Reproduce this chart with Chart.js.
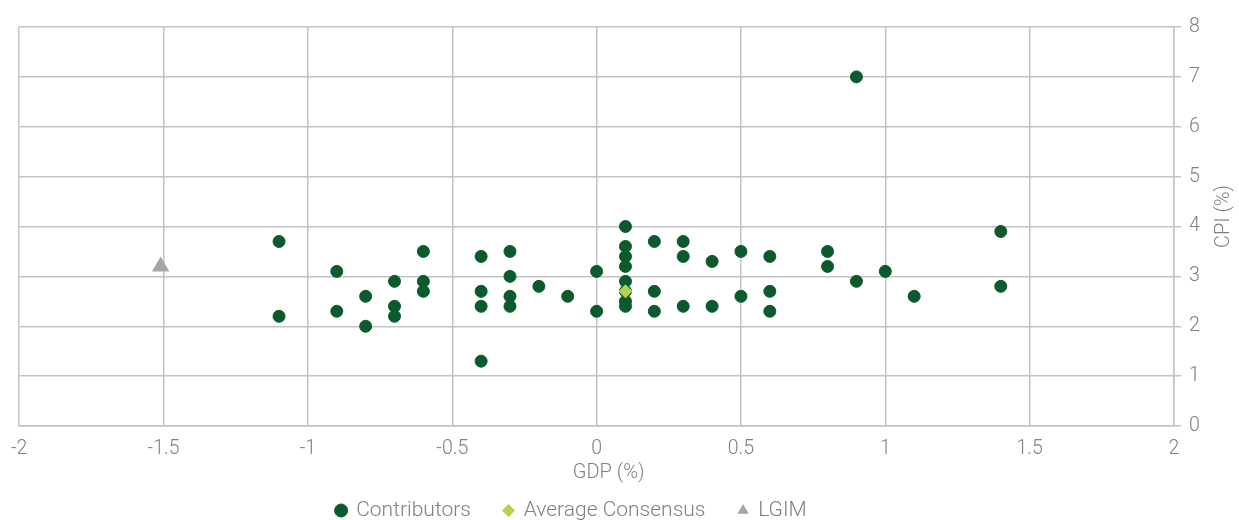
<!DOCTYPE html>
<html>
<head>
<meta charset="utf-8">
<script src="https://cdn.jsdelivr.net/npm/chart.js@4/dist/chart.umd.min.js"></script>
<style>
    html, body { margin: 0; padding: 0; background: #ffffff; }
    #wrap { width: 1239px; height: 520px; }
</style>
</head>
<body>
<div id="wrap"><canvas id="chart"></canvas></div>
<script>
// GDP (%) / CPI (%) forecasts
const contributorsGdp = [
    -1.1, -1.1, -0.9, -0.9, -0.8, -0.8, -0.7, -0.7, -0.7,
    -0.6, -0.6, -0.6, -0.4, -0.4, -0.4, -0.4, -0.3, -0.3, -0.3, -0.3,
    -0.2, -0.1, 0, 0,
    0.1, 0.1, 0.1, 0.1, 0.1, 0.1, 0.1, 0.1,
    0.2, 0.2, 0.2, 0.3, 0.3, 0.3, 0.4, 0.4, 0.5, 0.5,
    0.6, 0.6, 0.6, 0.8, 0.8, 0.9, 0.9, 1.0, 1.1, 1.4, 1.4
];
const contributorsCpi = [
    3.7, 2.2, 3.1, 2.3, 2.6, 2.0, 2.9, 2.4, 2.2,
    3.5, 2.9, 2.7, 3.4, 2.7, 2.4, 1.3, 3.5, 3.0, 2.6, 2.4,
    2.8, 2.6, 3.1, 2.3,
    4.0, 3.6, 3.4, 3.2, 2.9, 2.7, 2.5, 2.4,
    3.7, 2.7, 2.3, 3.7, 3.4, 2.4, 3.3, 2.4, 3.5, 2.6,
    3.4, 2.7, 2.3, 3.5, 3.2, 7.0, 2.9, 3.1, 2.6, 3.9, 2.8
];
const consensusGdp = [0.1];
const consensusCpi = [2.7];
const lgimGdp = [-1.51];
const lgimCpi = [3.2];

const seriesNames = ['Contributors', 'Average Consensus', 'LGIM'];
const xTitle = 'GDP (%)';
const yTitle = 'CPI (%)';

const toPoints = (xs, ys) => xs.map((x, i) => ({ x: x, y: ys[i] }));

const textColor = '#7f7f7f';
const gridColor = '#c3c3c3';

Chart.defaults.font.family = 'Roboto';
Chart.defaults.font.weight = '300';
Chart.defaults.font.size = 19.5;
Chart.defaults.color = textColor;

// axis titles: Excel places them a bit off-centre and the CPI one reads upward
const axisTitles = {
    id: 'axisTitles',
    afterLayout(chart) {
        // legend sits left of the plot centre in the original
        chart.legend.left -= 50;
    },
    afterDraw(chart) {
        const { ctx, chartArea } = chart;
        ctx.save();
        ctx.font = '300 20px Roboto';
        ctx.fillStyle = textColor;
        ctx.textAlign = 'center';
        ctx.textBaseline = 'middle';
        ctx.fillText(xTitle, (chartArea.left + chartArea.right) / 2 + 12, chartArea.bottom + 47);
        ctx.translate(chartArea.right + 50, (chartArea.top + chartArea.bottom) / 2 - 10);
        ctx.rotate(-Math.PI / 2);
        ctx.fillText(yTitle, 0, 0);
        ctx.restore();
    }
};

new Chart(document.getElementById('chart'), {
    type: 'scatter',
    data: {
        datasets: [
            {
                label: seriesNames[0],
                data: toPoints(contributorsGdp, contributorsCpi),
                pointStyle: 'circle',
                pointRadius: 6,
                pointBorderWidth: 1,
                backgroundColor: '#0a5a2e',
                borderColor: '#0a5a2e',
                order: 2,
            },
            {
                label: seriesNames[1],
                data: toPoints(consensusGdp, consensusCpi),
                pointStyle: 'rectRot',
                pointRadius: 7,
                pointBorderWidth: 0,
                backgroundColor: '#b4d24f',
                borderColor: '#b4d24f',
                order: 0,
            },
            {
                label: seriesNames[2],
                data: toPoints(lgimGdp, lgimCpi),
                pointStyle: 'triangle',
                pointRadius: 10,
                pointBorderWidth: 0,
                backgroundColor: '#a5a5a5',
                borderColor: '#a5a5a5',
                order: 1,
            },
        ]
    },
    options: {
        responsive: true,
        maintainAspectRatio: false,
        animation: false,
        layout: {
            padding: { left: 18, top: 27, right: 0, bottom: -11 }
        },
        scales: {
            x: {
                type: 'linear',
                position: 'bottom',
                min: -2,
                max: 2,
                ticks: {
                    stepSize: 0.5,
                    padding: 11,
                    color: textColor,
                    callback: (value) => String(value),
                },
                grid: { color: gridColor, lineWidth: 1.5, drawTicks: false },
                border: { color: gridColor, width: 1.5 },
                afterFit: (scale) => { scale.height = 41; },
            },
            y: {
                type: 'linear',
                position: 'right',
                min: 0,
                max: 8,
                ticks: { stepSize: 1, padding: 8, color: textColor },
                grid: { color: gridColor, lineWidth: 1.5, drawTicks: true, tickLength: 7 },
                border: { color: gridColor, width: 1.5 },
                afterFit: (scale) => { scale.width = 65; },
            }
        },
        plugins: {
            legend: {
                position: 'bottom',
                fullSize: false,
                labels: {
                    usePointStyle: true,
                    boxWidth: 9.2,
                    boxHeight: 9.2,
                    padding: 33,
                    color: textColor,
                    font: { size: 21 },
                    sort: (a, b) => a.datasetIndex - b.datasetIndex,
                }
            },
            tooltip: { enabled: false }
        }
    },
    plugins: [axisTitles]
});
</script>
</body>
</html>
